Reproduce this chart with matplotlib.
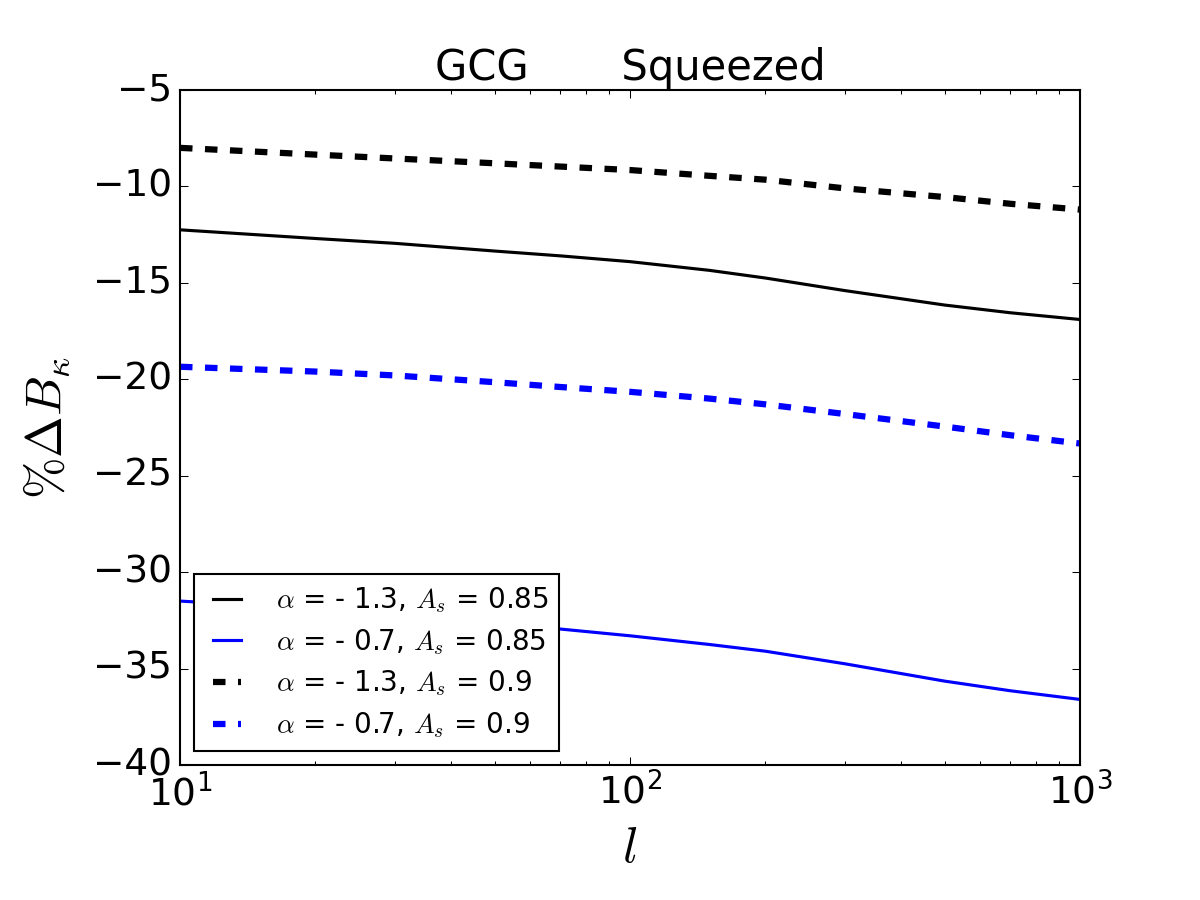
import matplotlib
matplotlib.use("Agg")
from matplotlib import pyplot as plt

plt.style.use("classic")
matplotlib.rcParams["mathtext.fontset"] = "cm"
matplotlib.rcParams["font.family"] = ["DejaVu Sans"]

# multipole l and percentage change of the squeezed bispectrum
l = [10, 20, 30, 50, 70, 100, 150, 200, 300, 500, 700, 1000]
b_a13_as085 = [-12.25, -12.7, -12.95, -13.35, -13.6, -13.9, -14.35, -14.75, -15.4, -16.15, -16.55, -16.9]
b_a07_as085 = [-31.5, -31.9, -32.15, -32.6, -32.95, -33.3, -33.75, -34.1, -34.75, -35.65, -36.15, -36.6]
b_a13_as09 = [-8.0, -8.35, -8.55, -8.8, -8.97, -9.15, -9.45, -9.65, -10.1, -10.55, -10.9, -11.2]
b_a07_as09 = [-19.35, -19.6, -19.8, -20.15, -20.4, -20.65, -21.0, -21.3, -21.8, -22.45, -22.9, -23.33]

labels = [r"$\alpha$ = - 1.3, $A_s$ = 0.85",
          r"$\alpha$ = - 0.7, $A_s$ = 0.85",
          r"$\alpha$ = - 1.3, $A_s$ = 0.9",
          r"$\alpha$ = - 0.7, $A_s$ = 0.9"]

fig = plt.figure(figsize=(8, 6), dpi=150, facecolor="white")
ax = fig.add_subplot(111)
fig.subplots_adjust(left=0.15, right=0.9, bottom=0.15, top=0.9)

ax.plot(l, b_a13_as085, "k-", lw=1.5, label=labels[0])
ax.plot(l, b_a07_as085, "b-", lw=1.5, label=labels[1])
ax.plot(l, b_a13_as09, "k--", lw=3, label=labels[2])
ax.plot(l, b_a07_as09, "b--", lw=3, label=labels[3])

ax.set_xscale("log")
ax.set_xlim(10, 1000)
ax.set_ylim(-40, -5)
ax.tick_params(labelsize=18)

ax.set_xlabel(r"$l$", fontsize=24)
ax.set_ylabel(r"$\%\Delta B_{\kappa}$", fontsize=24, labelpad=10)
ax.set_title("GCG       Squeezed", fontsize=20)

ax.legend(loc="lower left", fontsize=13.3, handlelength=1.6,
          handletextpad=0.95, labelspacing=0.43)

fig.savefig("out.png", dpi=150, facecolor="white")
